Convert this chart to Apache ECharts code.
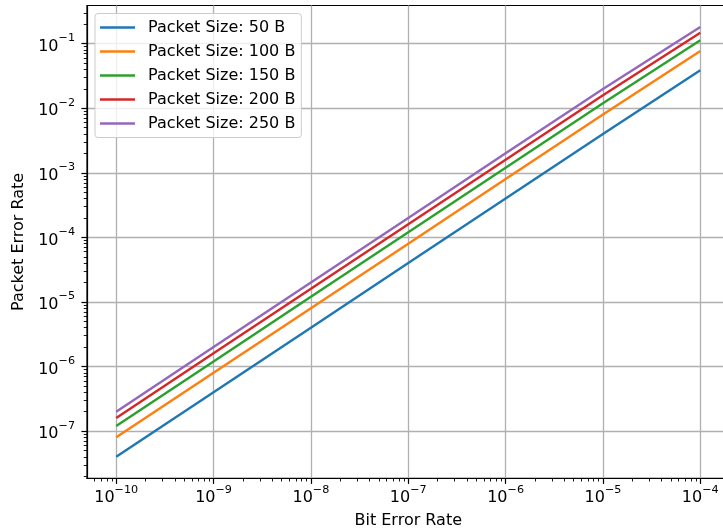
<!DOCTYPE html>
<html>
<head>
<meta charset="utf-8">
<script src="https://cdn.jsdelivr.net/npm/echarts@6/dist/echarts.min.js"></script>
<style>
html,body{margin:0;padding:0;background:#fff;overflow:hidden;}
#c{width:723px;height:532px;}
</style>
</head>
<body>
<div id="c"></div>
<script>
// Data
const ber = [1e-10, 1e-9, 1e-8, 1e-7, 1e-6, 1e-5, 1e-4];
const per50  = [4.0e-8, 4.0e-7, 4.0e-6, 4.0e-5, 4.0e-4, 3.99e-3, 0.0388];
const per100 = [8.0e-8, 8.0e-7, 8.0e-6, 8.0e-5, 8.0e-4, 7.97e-3, 0.0769];
const per150 = [1.2e-7, 1.2e-6, 1.2e-5, 1.2e-4, 1.2e-3, 0.0119, 0.113];
const per200 = [1.6e-7, 1.6e-6, 1.6e-5, 1.6e-4, 1.6e-3, 0.0159, 0.148];
const per250 = [2.0e-7, 2.0e-6, 2.0e-5, 2.0e-4, 2.0e-3, 0.0198, 0.181];
const seriesNames = ['Packet Size: 50 B', 'Packet Size: 100 B', 'Packet Size: 150 B', 'Packet Size: 200 B', 'Packet Size: 250 B'];
const seriesValues = [per50, per100, per150, per200, per250];
const colors = ['#1f77b4', '#ff7f0e', '#2ca02c', '#d62728', '#9467bd'];
const xTickExps = [-10, -9, -8, -7, -6, -5, -4];
const yTickExps = [-7, -6, -5, -4, -3, -2, -1];
const xTitle = 'Bit Error Rate';
const yTitle = 'Packet Error Rate';

const xMajor = xTickExps.map(e => Math.pow(10, e));
const yMajor = yTickExps.map(e => Math.pow(10, e));
function minorsFor(exps) {
  const out = [];
  const lo = exps[0] - 1, hi = exps[exps.length - 1];
  for (let e = lo; e <= hi; e++) for (let m = 2; m <= 9; m++) out.push(m * Math.pow(10, e));
  return out;
}
const xMinor = minorsFor(xTickExps);
const yMinor = minorsFor(yTickExps);

const FONT = 'DejaVu Sans';
const rich = {
  b: {fontFamily: FONT, fontSize: 16, color: '#000', verticalAlign: 'bottom', lineHeight: 22},
  s: {fontFamily: FONT, fontSize: 11.2, color: '#000', verticalAlign: 'top', lineHeight: 22}
};
function pow10Label(v) {
  const e = Math.round(Math.log10(v));
  const s = e < 0 ? '\u2212' + Math.abs(e) : String(e);
  return '{b|10}{s|' + s + '}';
}

const xMin = Math.pow(10, -10.3), xMax = Math.pow(10, -3.7);
const yMin = Math.pow(10, -7.731), yMax = Math.pow(10, -0.409);

const chart = echarts.init(document.getElementById('c'), null, {renderer: 'canvas'});
const option = {
  animation: false,
  backgroundColor: '#fff',
  grid: {left: 87, top: 5.5, width: 642.5, height: 472.8, show: true, borderColor: '#000', borderWidth: 1.2, backgroundColor: 'transparent', containLabel: false, outerBoundsMode: 'none'},
  legend: {
    orient: 'vertical', left: 95, top: 13.5,
    padding: [6, 6, 6, 5],
    icon: 'path://M0 0H350V24H0Z',
    itemWidth: 35, itemHeight: 16, itemGap: 8,
    backgroundColor: 'rgba(255,255,255,0.8)', borderColor: '#cccccc', borderWidth: 1, borderRadius: 3,
    textStyle: {fontFamily: FONT, fontSize: 16, color: '#000', lineHeight: 16, padding: [0, 0, 0, 8]},
    data: seriesNames
  },
  xAxis: [{
    type: 'log', min: xMin, max: xMax, position: 'bottom',
    name: xTitle, nameLocation: 'middle', nameGap: 35,
    nameTextStyle: {fontFamily: FONT, fontSize: 16, color: '#000'},
    axisLine: {lineStyle: {color: '#000', width: 1.2}},
    axisTick: {show: true, inside: false, length: 5.6, lineStyle: {color: '#000', width: 1.2}, customValues: xMajor},
    axisLabel: {margin: 6, formatter: pow10Label, rich: rich, customValues: xMajor},
    splitLine: {show: true, lineStyle: {color: '#b0b0b0', width: 1.3}},
    minorTick: {show: false}
  }, {
    type: 'log', min: xMin, max: xMax, position: 'bottom', gridIndex: 0,
    axisLine: {show: false},
    axisTick: {show: true, inside: false, length: 3.2, lineStyle: {color: '#000', width: 0.9}, customValues: xMinor},
    axisLabel: {show: false},
    splitLine: {show: false}
  }],
  yAxis: [{
    type: 'log', min: yMin, max: yMax, position: 'left',
    name: yTitle, nameLocation: 'middle', nameGap: 59, nameRotate: 90,
    nameTextStyle: {fontFamily: FONT, fontSize: 16, color: '#000'},
    axisLine: {lineStyle: {color: '#000', width: 1.2}},
    axisTick: {show: true, inside: false, length: 5.6, lineStyle: {color: '#000', width: 1.2}, customValues: yMajor},
    axisLabel: {margin: 12, formatter: pow10Label, rich: rich, customValues: yMajor},
    splitLine: {show: true, lineStyle: {color: '#b0b0b0', width: 1.3}}
  }, {
    type: 'log', min: yMin, max: yMax, position: 'left', gridIndex: 0,
    axisLine: {show: false},
    axisTick: {show: true, inside: false, length: 3.2, lineStyle: {color: '#000', width: 0.9}, customValues: yMinor},
    axisLabel: {show: false},
    splitLine: {show: false}
  }],
  series: seriesNames.map((name, i) => ({
    name: name, type: 'line', xAxisIndex: 0, yAxisIndex: 0,
    data: ber.map((b, j) => [b, seriesValues[i][j]]),
    showSymbol: false, symbol: 'none',
    lineStyle: {color: colors[i], width: 2.4},
    itemStyle: {color: colors[i]},
    z: 3
  }))
};
chart.setOption(option);
</script>
</body>
</html>
